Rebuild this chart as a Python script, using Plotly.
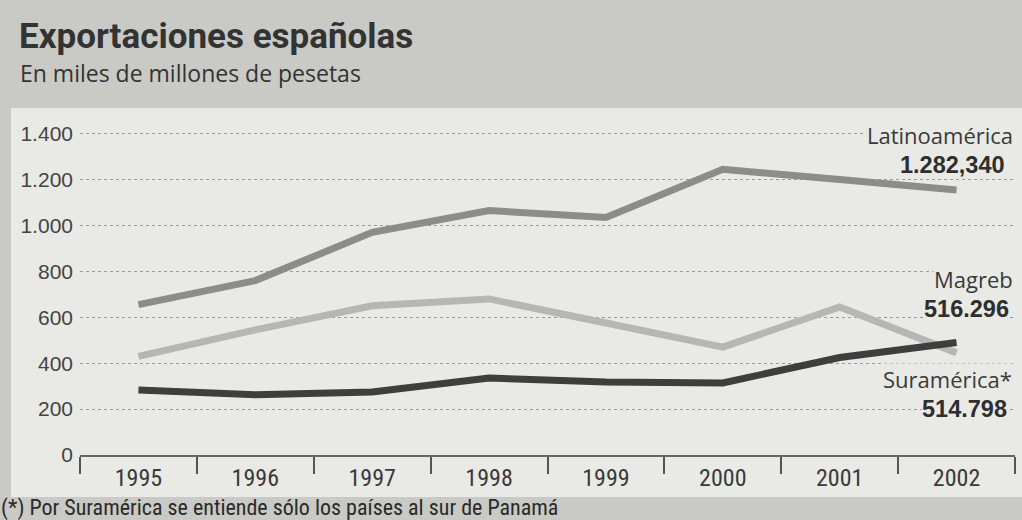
import plotly.graph_objects as go

years = ["1995", "1996", "1997", "1998", "1999", "2000", "2001", "2002"]
latinoamerica = [655, 760, 970, 1065, 1035, 1245, 1200, 1155]
magreb = [430, 545, 650, 680, 575, 470, 645, 445]
suramerica = [283, 262, 275, 335, 318, 314, 425, 490]

y_ticks = [0, 200, 400, 600, 800, 1000, 1200, 1400]
y_ticktext = ["0", "200", "400", "600", "800", "1.000", "1.200", "1.400"]

BG = "#e9e9e6"
BAND = "#c9c9c6"
NARROW = "Liberation Sans Narrow, Arial Narrow, Roboto Condensed, Liberation Sans, Arial"
SANS = "Liberation Sans, Arial, Helvetica, sans-serif"
WIDE = "Open Sans, Noto Sans, Liberation Sans, Arial"
TITLE = "Roboto, Liberation Sans, Arial"

fig = go.Figure()
fig.add_trace(go.Scatter(x=years, y=latinoamerica, mode="lines",
                         line=dict(color="#8c8c8a", width=7), name="Latinoamérica"))
fig.add_trace(go.Scatter(x=years, y=magreb, mode="lines",
                         line=dict(color="#b6b6b4", width=7), name="Magreb"))
fig.add_trace(go.Scatter(x=years, y=suramerica, mode="lines",
                         line=dict(color="#3e3e3e", width=7), name="Suramérica*"))

# pixel helpers (plot area: x 80..1015, y 108..455)
L, R, T, B = 80, 1015, 108, 455
def px(xp):
    return (xp - L) / (R - L)
def py(yp):
    return (B - yp) / (B - T)

shapes = [
    dict(type="rect", xref="paper", yref="paper", x0=px(11), x1=px(1030), y0=py(497), y1=py(108),
         fillcolor=BG, line=dict(width=0), layer="below"),
]

def label_pair(name, value, x_name, x_value, y_split):
    return [
        dict(text=name, xref="paper", yref="paper", x=px(x_name), y=py(y_split),
             xanchor="right", yanchor="bottom", showarrow=False, bgcolor=BG, borderpad=0,
             font=dict(family=WIDE, size=22, color="#3a3a3a")),
        dict(text="<b>" + value + "</b>", xref="paper", yref="paper", x=px(x_value), y=py(y_split),
             xanchor="right", yanchor="top", showarrow=False, bgcolor=BG, borderpad=0,
             font=dict(family=SANS, size=23.5, color="#2e2e2e")),
    ]

annotations = [
    dict(text="<b>Exportaciones españolas</b>", xref="paper", yref="paper", x=px(17), y=py(37),
         xanchor="left", yanchor="middle", showarrow=False,
         font=dict(family=TITLE, size=35, color="#333333")),
    dict(text="En miles de millones de pesetas", xref="paper", yref="paper", x=px(18), y=py(73),
         xanchor="left", yanchor="middle", showarrow=False,
         font=dict(family=WIDE, size=23, color="#333333")),
    dict(text="(*) Por Suramérica se entiende sólo los países al sur de Panamá", xref="paper", yref="paper",
         x=px(-1), y=py(508), xanchor="left", yanchor="middle", showarrow=False,
         font=dict(family=NARROW, size=22, color="#2a2a2a")),
]
annotations += label_pair("Latinoamérica", "1.282,340", 1014, 1006, 151)
annotations += label_pair("Magreb", "516.296", 1014, 1010, 295)
annotations += label_pair("Suramérica*", "514.798", 1013, 1008, 395)

fig.update_layout(
    width=1022, height=520,
    margin=dict(l=L, r=1022 - R, t=T, b=520 - B),
    paper_bgcolor=BAND, plot_bgcolor=BG,
    showlegend=False,
    shapes=shapes, annotations=annotations,
    xaxis=dict(type="category", range=[-0.5, 7.5], tickson="boundaries", ticks="outside",
               ticklen=17, tickwidth=1.5, tickcolor="#555555", showgrid=False,
               showline=True, linecolor="#666666", linewidth=2, zeroline=False,
               tickfont=dict(family=NARROW, size=24, color="#3a3a3a")),
    yaxis=dict(range=[0, (B - T) / 0.2295], tickvals=y_ticks, ticktext=y_ticktext,
               showgrid=True, gridcolor="#9a9a9a", griddash="dot", gridwidth=1,
               zeroline=False, showline=False, ticks="", ticklabelstandoff=6,
               tickfont=dict(family=SANS, size=21, color="#444444")),
)

fig.write_html("out.html", config={"displayModeBar": False},
               post_script="document.body.style.margin='0';")
